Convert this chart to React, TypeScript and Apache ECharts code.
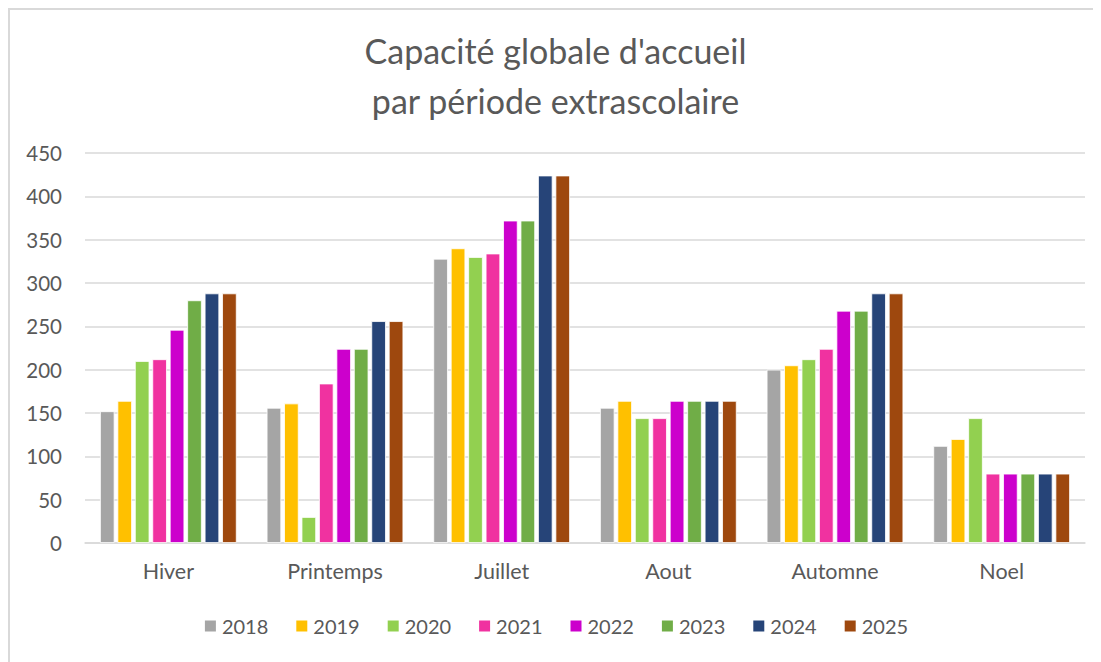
import React, { useEffect, useRef } from "react";
import * as echarts from "echarts";

const categories = ["Hiver", "Printemps", "Juillet", "Aout", "Automne", "Noel"];
const years = ["2018", "2019", "2020", "2021", "2022", "2023", "2024", "2025"];
const v2018 = [152, 156, 328, 156, 200, 112];
const v2019 = [164, 161, 340, 164, 205, 120];
const v2020 = [210, 30, 330, 144, 212, 144];
const v2021 = [212, 184, 334, 144, 224, 80];
const v2022 = [246, 224, 372, 164, 268, 80];
const v2023 = [280, 224, 372, 164, 268, 80];
const v2024 = [288, 256, 424, 164, 288, 80];
const v2025 = [288, 256, 424, 164, 288, 80];
const seriesValues = [v2018, v2019, v2020, v2021, v2022, v2023, v2024, v2025];
const colors = ["#A5A5A5", "#FFC000", "#92D050", "#F032A0", "#CC00CC", "#70AD47", "#264478", "#9E480E"];
const titleText = "Capacité globale d'accueil\npar période extrascolaire";

const FONT = "Lato, 'Open Sans', sans-serif";
const TXT = "#595959";

export default function App() {
  const ref = useRef<HTMLDivElement>(null);
  useEffect(() => {
    if (!ref.current) return;
    const chart = echarts.init(ref.current, undefined, { renderer: "svg" });
    chart.setOption({
      animation: false,
      textStyle: { fontFamily: FONT },
      title: {
        text: titleText,
        left: "center",
        top: 10,
        textStyle: { fontSize: 34, fontWeight: "normal", color: TXT, lineHeight: 50, fontFamily: FONT },
      },
      grid: { left: 75, right: 16, top: 143, bottom: 119, containLabel: false },
      legend: {
        data: years,
        bottom: 21,
        left: "center",
        itemWidth: 13,
        itemHeight: 13,
        itemGap: 26,
        icon: "rect",
        textStyle: { fontSize: 20, color: TXT, fontFamily: FONT },
      },
      xAxis: {
        type: "category",
        data: categories,
        axisTick: { show: false },
        axisLine: { lineStyle: { color: "#d9d9d9", width: 1.5 } },
        axisLabel: { fontSize: 21.5, color: TXT, margin: 17, fontFamily: FONT },
      },
      yAxis: {
        type: "value",
        min: 0,
        max: 450,
        interval: 50,
        axisLine: { show: false },
        axisTick: { show: false },
        splitLine: { lineStyle: { color: "#d9d9d9", width: 1.5 } },
        axisLabel: { fontSize: 20.5, color: TXT, margin: 23, fontFamily: FONT },
      },
      series: years.map((y, i) => ({
        name: y,
        type: "bar",
        data: seriesValues[i],
        barGap: "20%",
        barCategoryGap: "18%",
        itemStyle: { color: colors[i], borderColor: "#ffffff", borderWidth: 0.8 },
      })),
    });
    return () => chart.dispose();
  }, []);
  return (
    <div
      style={{
        width: 1093,
        height: 654,
        borderTop: "2px solid #d9d9d9",
        borderLeft: "2px solid #d9d9d9",
        boxSizing: "border-box",
        overflow: "hidden",
        background: "#fff",
      }}
    >
      <div ref={ref} style={{ width: 1091, height: 652 }} />
    </div>
  );
}
